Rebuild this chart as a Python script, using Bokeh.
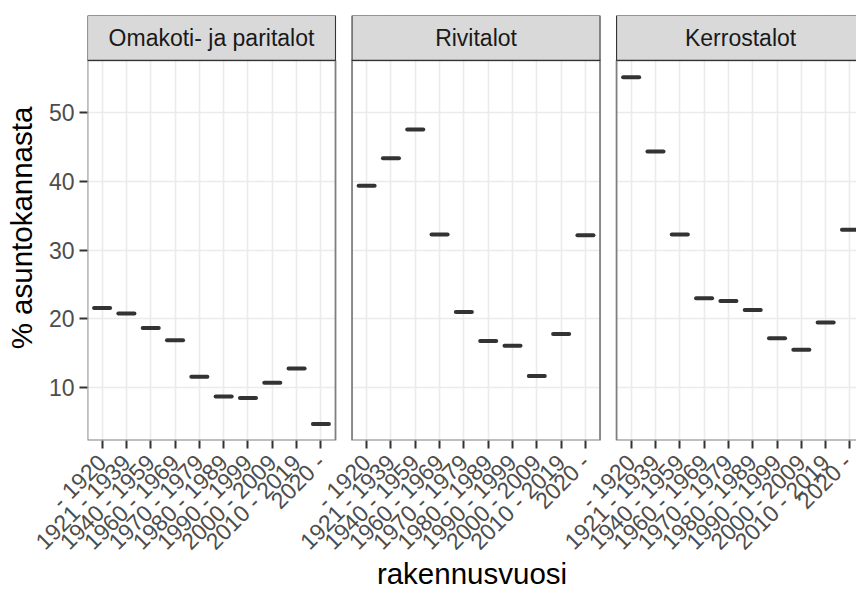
import math

from bokeh.embed import file_html
from bokeh.models import BoxAnnotation, ColumnDataSource, FixedTicker, Label, Range1d
from bokeh.plotting import figure
from bokeh.resources import INLINE

# Share of the housing stock (%) by construction period, per building type
periods = ["- 1920", "1921 - 1939", "1940 - 1959", "1960 - 1969", "1970 - 1979",
           "1980 - 1989", "1990 - 1999", "2000 - 2009", "2010 - 2019", "2020 -"]
building_types = ["Omakoti- ja paritalot", "Rivitalot", "Kerrostalot"]
omakoti = [21.6, 20.8, 18.7, 16.9, 11.6, 8.7, 8.5, 10.7, 12.8, 4.7]
rivitalot = [39.4, 43.4, 47.6, 32.3, 21.0, 16.8, 16.1, 11.7, 17.8, 32.2]
kerrostalot = [55.2, 44.4, 32.3, 23.0, 22.6, 21.3, 17.2, 15.5, 19.5, 33.0]
series = [omakoti, rivitalot, kerrostalot]

FONT = "Liberation Sans"

# facet geometry (in category units along x)
n_cat = len(periods)
pad = 0.6                     # discrete-scale expansion on each side
panel_w = n_cat - 1 + 2 * pad
gap = 0.68                    # space between facet panels
step = panel_w + gap
px_per_unit = 248 / panel_w
frame_px = 769

# y scale: panel part is 381 px tall, strip 45 px above it
y_lo, y_hi = 2.3, 57.65
px_per_y = 381 / (y_hi - y_lo)
strip_h = 45 / px_per_y
y_top = y_hi + strip_h

x_start = 1 - pad
x_end = x_start + frame_px / px_per_unit

p = figure(width=856, height=592, output_backend="svg", toolbar_location=None,
           x_range=Range1d(x_start, x_end), y_range=Range1d(y_lo, y_top),
           min_border_left=87, min_border_right=0, min_border_top=15,
           min_border_bottom=151)
p.outline_line_color = None
p.background_fill_color = "white"
p.border_fill_color = "white"

# x positions: category index within each facet panel
xs, ys, tick_pos, tick_lab = [], [], [], []
for k, vals in enumerate(series):
    off = k * step
    for i, v in enumerate(vals):
        xs.append(off + i + 1)
        ys.append(v)
    for i, lab in enumerate(periods):
        tick_pos.append(off + i + 1)
        tick_lab.append(lab)

half = 0.33
src = ColumnDataSource(dict(x0=[x - half for x in xs], x1=[x + half for x in xs], y=ys))
p.segment(x0="x0", y0="y", x1="x1", y1="y", source=src, line_color="#333333",
          line_width=4, line_cap="round")

# grid
p.xgrid.ticker = FixedTicker(ticks=tick_pos)
p.ygrid.ticker = FixedTicker(ticks=[10, 20, 30, 40, 50])
for g in (p.xgrid, p.ygrid):
    g.grid_line_color = "#ebebeb"
    g.grid_line_width = 1.6
p.xgrid.minor_grid_line_color = None
p.ygrid.minor_grid_line_color = None

# axes
xa = p.xaxis[0]
xa.ticker = FixedTicker(ticks=tick_pos)
xa.major_label_overrides = {pos: lab for pos, lab in zip(tick_pos, tick_lab)}
xa.major_label_orientation = math.pi / 4
xa.axis_label = "rakennusvuosi"

ya = p.yaxis[0]
ya.ticker = FixedTicker(ticks=[10, 20, 30, 40, 50])
ya.axis_label = "% asuntokannasta"

for ax in (xa, ya):
    ax.axis_line_color = None
    ax.major_tick_line_color = "#333333"
    ax.major_tick_line_width = 2
    ax.major_tick_in = 0
    ax.major_tick_out = 8
    ax.minor_tick_line_color = None
    ax.major_label_text_font = FONT
    ax.major_label_text_font_size = "23px"
    ax.major_label_text_color = "#4d4d4d"
    ax.axis_label_text_font = FONT
    ax.axis_label_text_font_size = "29.5px"
    ax.axis_label_text_font_style = "normal"
    ax.axis_label_text_color = "black"
ya.major_label_standoff = 5
ya.axis_label_standoff = 8
xa.major_label_standoff = 10
xa.axis_label_standoff = -10

# white gaps between panels
for k in range(1, len(series)):
    left = x_start + k * step - gap
    p.add_layout(BoxAnnotation(left=left, right=left + gap, bottom=y_lo - 5, top=y_top + 5,
                               fill_color="white", fill_alpha=1, line_color=None))

# panel borders, strips and strip texts
for k, name in enumerate(building_types):
    left = x_start + k * step
    right = left + panel_w
    if right > x_end:
        right = x_end + 1
    p.add_layout(BoxAnnotation(left=left, right=right, bottom=y_lo, top=y_hi,
                               fill_alpha=0, line_color="#7f7f7f", line_alpha=1,
                               line_width=1.8))
    p.add_layout(BoxAnnotation(left=left, right=right, bottom=y_hi, top=y_top,
                               fill_color="#d9d9d9", fill_alpha=1,
                               line_color="#333333", line_alpha=1, line_width=1.1))
    p.add_layout(Label(x=left + panel_w / 2, y=(y_hi + y_top) / 2, text=name,
                       text_align="center", text_baseline="middle",
                       text_font=FONT, text_font_size="23px", text_color="#1a1a1a"))

open("out.html", "w").write(file_html(p, INLINE))
